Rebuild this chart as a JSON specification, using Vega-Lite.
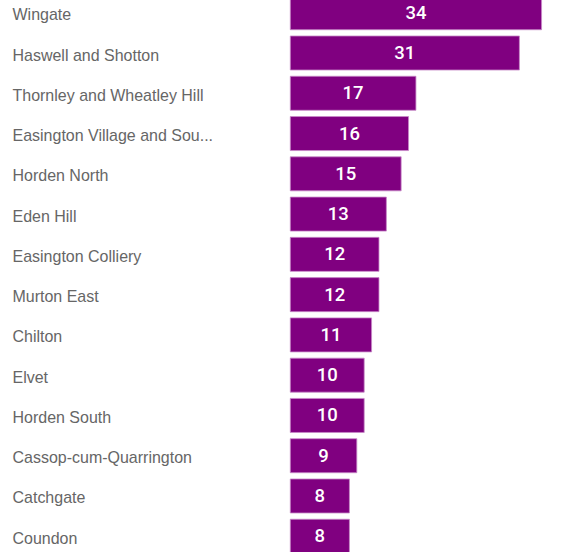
{
  "$schema": "https://vega.github.io/schema/vega-lite/v6.json",
  "autosize": {"type": "none"},
  "padding": {"left": 290.3, "top": -7.4, "right": 0, "bottom": 0},
  "width": 288,
  "height": 563.8,
  "background": "white",
  "config": {"view": {"stroke": null}},
  "data": {
    "values": [
      {"ward": "Wingate", "count": 34},
      {"ward": "Haswell and Shotton", "count": 31},
      {"ward": "Thornley and Wheatley Hill", "count": 17},
      {"ward": "Easington Village and South", "count": 16},
      {"ward": "Horden North", "count": 15},
      {"ward": "Eden Hill", "count": 13},
      {"ward": "Easington Colliery", "count": 12},
      {"ward": "Murton East", "count": 12},
      {"ward": "Chilton", "count": 11},
      {"ward": "Elvet", "count": 10},
      {"ward": "Horden South", "count": 10},
      {"ward": "Cassop-cum-Quarrington", "count": 9},
      {"ward": "Catchgate", "count": 8},
      {"ward": "Coundon", "count": 8}
    ]
  },
  "encoding": {
    "y": {
      "field": "ward",
      "type": "nominal",
      "sort": null,
      "scale": {"paddingInner": 0.155, "paddingOuter": 0.0775},
      "axis": {
        "title": null,
        "domain": false,
        "ticks": false,
        "tickSize": 0,
        "labelPadding": 278.3,
        "labelAlign": "left",
        "labelFont": "Liberation Sans",
        "labelFontSize": 16,
        "labelColor": "#666666",
        "labelLimit": 260,
        "labelOffset": 2.5,
        "labelExpr": "datum.label == 'Easington Village and South' ? 'Easington Village and Sou...' : datum.label"
      }
    }
  },
  "layer": [
    {
      "mark": {"type": "bar", "color": "#800080", "stroke": "#c88ac8", "strokeWidth": 0.8},
      "encoding": {
        "x": {
          "field": "count",
          "type": "quantitative",
          "scale": {"domain": [0, 38.97], "nice": false},
          "axis": null
        }
      }
    },
    {
      "transform": [{"calculate": "datum.count / 2", "as": "mid"}],
      "mark": {"type": "text", "color": "white", "font": "Roboto", "fontSize": 18.5, "fontWeight": 500, "baseline": "middle", "align": "center", "dy": 0},
      "encoding": {
        "x": {"field": "mid", "type": "quantitative", "scale": {"domain": [0, 38.97], "nice": false}, "axis": null},
        "text": {"field": "count", "type": "quantitative"}
      }
    }
  ]
}
